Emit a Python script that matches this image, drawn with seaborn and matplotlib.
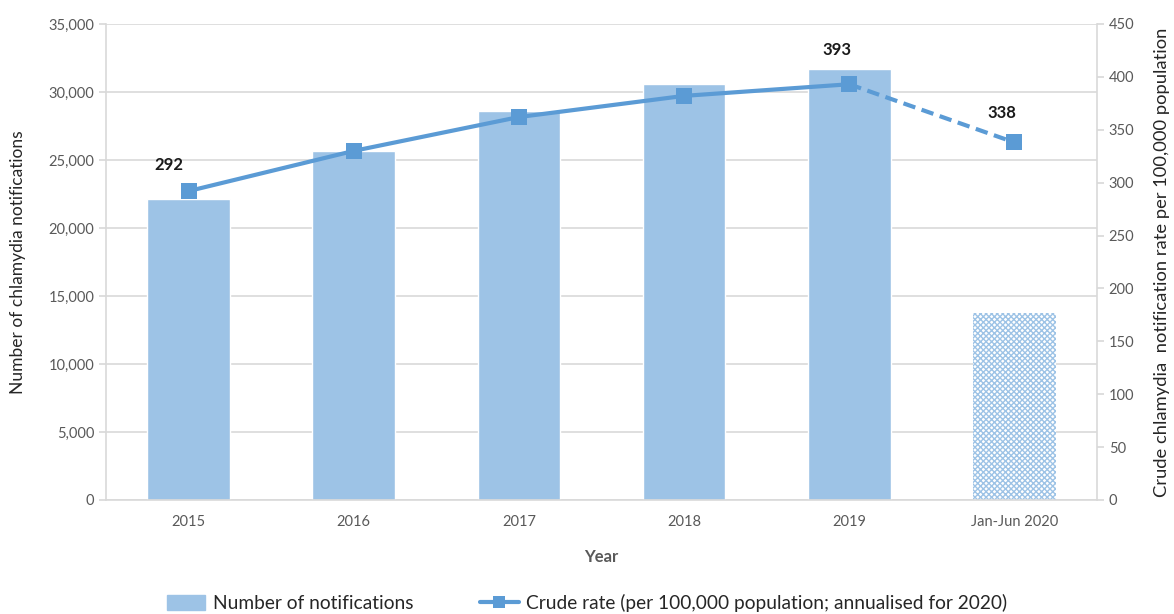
import numpy as np
import pandas as pd
import matplotlib
matplotlib.use("Agg")
import matplotlib.pyplot as plt
import seaborn as sns
from matplotlib.patches import Patch
from matplotlib.lines import Line2D

years = ["2015", "2016", "2017", "2018", "2019", "Jan-Jun 2020"]
notifications = [22150, 25650, 28600, 30550, 31700, 13750]
crude_rate = [292, 330, 362, 382, 393, 338]
labelled = {0: "292", 4: "393", 5: "338"}

bar_color = "#9DC3E6"
line_color = "#5B9BD5"
text_gray = "#595959"
grid_gray = "#D9D9D9"

sns.set_theme(style="white")
plt.rcParams["font.family"] = ["Lato", "DejaVu Sans"]
plt.rcParams["hatch.linewidth"] = 1.0

fig = plt.figure(figsize=(11.74, 6.14), dpi=100)
ax = fig.add_axes([0.0903, 0.1857, 0.8441, 0.7753])

df = pd.DataFrame({"year": years, "count": notifications})
sns.barplot(data=df, x="year", y="count", order=years, color=bar_color,
            saturation=1, width=0.5, ax=ax, zorder=2)

# last bar: partial year, hatched
last = ax.patches[-1]
last.set_facecolor("white")
last.set_edgecolor(bar_color)
last.set_hatch("xxxxxx")
last.set_linewidth(0)

ax.set_ylim(0, 35000)
ax.set_xlim(-0.5, 5.5)
ax.set_yticks(np.arange(0, 35001, 5000))
ax.set_yticklabels([f"{v:,}" for v in range(0, 35001, 5000)])
ax.yaxis.grid(True, color=grid_gray, linewidth=1.2, zorder=0)
ax.set_axisbelow(True)
ax.set_xlabel("Year", fontsize=12, fontweight="bold", color=text_gray, labelpad=14)
ax.set_ylabel("Number of chlamydia notifications", fontsize=12.5, color="#262626", labelpad=16)
ax.tick_params(axis="both", colors=text_gray, labelsize=10.5)
ax.tick_params(axis="y", length=5, color=grid_gray, direction="out", left=True)
ax.tick_params(axis="x", length=0, pad=11)
for s in ["top", "right"]:
    ax.spines[s].set_visible(False)
for s in ["left", "bottom"]:
    ax.spines[s].set_color(grid_gray)
    ax.spines[s].set_linewidth(1.2)

ax2 = ax.twinx()
x = np.arange(len(years))
sns.lineplot(x=x[:5], y=crude_rate[:5], ax=ax2, color=line_color, linewidth=3,
             marker="s", markersize=11, markeredgewidth=0, zorder=3)
sns.lineplot(x=x[4:], y=crude_rate[4:], ax=ax2, color=line_color, linewidth=3,
             linestyle=(0, (3, 1.6)), marker="s", markersize=11, markeredgewidth=0, zorder=3)
ax2.set_ylim(0, 450)
ax2.set_yticks(np.arange(0, 451, 50))
ax2.set_ylabel("Crude chlamydia  notification rate per 100,000 population",
               fontsize=13.2, color="#262626", labelpad=14)
ax2.tick_params(axis="y", colors=text_gray, labelsize=10.5, length=5, color=grid_gray,
                direction="out", right=True)
for s in ["top", "left", "bottom"]:
    ax2.spines[s].set_visible(False)
ax2.spines["right"].set_color(grid_gray)
ax2.spines["right"].set_linewidth(1.2)

offsets = {0: (-14, 19), 4: (-9, 25), 5: (-9, 21)}
for i, txt in labelled.items():
    ax2.annotate(txt, (x[i], crude_rate[i]), xytext=offsets[i],
                 textcoords="offset points", ha="center", va="center",
                 fontsize=12, fontweight="bold", color="#1A1A1A")

handles = [Patch(facecolor=bar_color, edgecolor=bar_color),
           Line2D([0], [0], color=line_color, linewidth=3, marker="s",
                  markersize=8, markeredgewidth=0)]
fig.legend(handles, ["Number of notifications",
                     "Crude rate (per 100,000 population; annualised for 2020)"],
           loc="lower center", bbox_to_anchor=(0.5, -0.025), ncol=2, frameon=False,
           fontsize=13.8, columnspacing=3.5, handlelength=2.0, handletextpad=0.4,
           handleheight=0.8)

fig.savefig("out.png", dpi=100)
